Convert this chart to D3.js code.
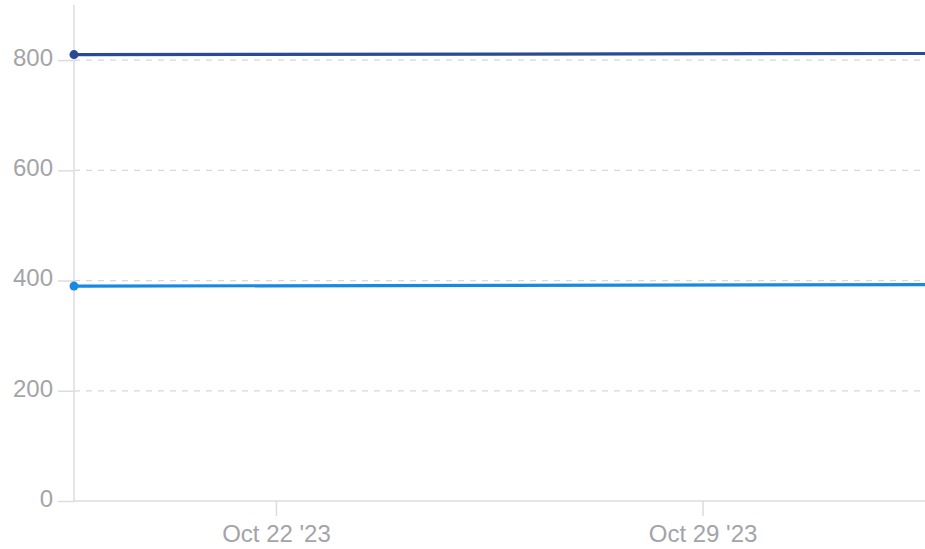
<!DOCTYPE html>
<html>
<head>
<meta charset="utf-8">
<script src="https://cdn.jsdelivr.net/npm/d3@7"></script>
<style>
  html, body { margin: 0; padding: 0; background: #fff; }
  svg text { font-family: "Liberation Sans", Arial, sans-serif; }
</style>
</head>
<body>
<div id="chart"></div>
<script>
// data
const dates = ["2023-10-18T16:28:00Z", "2023-11-01T15:36:00Z"];
const darkValues = [810, 812];
const lightValues = [390, 392.5];
const yTicks = [0, 200, 400, 600, 800];
const xTickDates = ["2023-10-22T00:00:00Z", "2023-10-29T00:00:00Z"];

const width = 925, height = 549;
const margin = {left: 74, right: 0, top: 5, bottom: 48};

const svg = d3.select("#chart").append("svg")
    .attr("width", width)
    .attr("height", height);

const x = d3.scaleUtc()
    .domain([new Date(dates[0]), new Date(dates[dates.length - 1])])
    .range([margin.left, width - margin.right]);

const y = d3.scaleLinear()
    .domain([0, 900])
    .range([height - margin.bottom, margin.top]);

const fmt = d3.utcFormat("%b %-d '%y");

// gridlines
svg.append("g")
    .selectAll("line")
    .data(yTicks.filter(d => d > 0))
    .join("line")
    .attr("x1", margin.left)
    .attr("x2", width)
    .attr("y1", d => y(d))
    .attr("y2", d => y(d))
    .attr("stroke", "#d8d8dc")
    .attr("stroke-width", 1.2)
    .attr("stroke-dasharray", "6,6");

// y axis
const yAxis = svg.append("g")
    .attr("transform", `translate(${margin.left},0)`)
    .call(d3.axisLeft(y).tickValues(yTicks).tickSize(16).tickPadding(5));
yAxis.select(".domain").remove();
yAxis.append("line")
    .attr("x1", 0).attr("x2", 0)
    .attr("y1", margin.top).attr("y2", y(0))
    .attr("stroke", "#dcdce0").attr("stroke-width", 1.5);
yAxis.selectAll(".tick text").attr("dy", "0.22em");

// x axis
const xAxis = svg.append("g")
    .attr("transform", `translate(0,${y(0)})`)
    .call(d3.axisBottom(x).tickValues(xTickDates.map(d => new Date(d)))
        .tickFormat(fmt).tickSize(15).tickPadding(6));
xAxis.select(".domain")
    .attr("d", `M${margin.left},0H${width}`);
xAxis.selectAll(".tick text").attr("dy", "0.82em");

svg.selectAll(".tick line").attr("stroke", "#dcdce0").attr("stroke-width", 1.5);
svg.selectAll(".domain").attr("stroke", "#dcdce0").attr("stroke-width", 1.5);
svg.selectAll(".tick text")
    .attr("fill", "#a4a4a8")
    .attr("font-size", 24)
    .attr("font-family", "Liberation Sans, Arial, sans-serif");

// series
const series = [
    {name: "dark", values: darkValues, color: "#2b4a96"},
    {name: "light", values: lightValues, color: "#168ae2"}
];

const line = d3.line()
    .x((d, i) => x(new Date(dates[i])))
    .y(d => y(d));

series.forEach(s => {
    svg.append("path")
        .datum(s.values)
        .attr("fill", "none")
        .attr("stroke", s.color)
        .attr("stroke-width", 3.2)
        .attr("d", line);
    svg.append("circle")
        .attr("cx", x(new Date(dates[0])))
        .attr("cy", y(s.values[0]))
        .attr("r", 4.5)
        .attr("fill", s.color);
});
</script>
</body>
</html>
